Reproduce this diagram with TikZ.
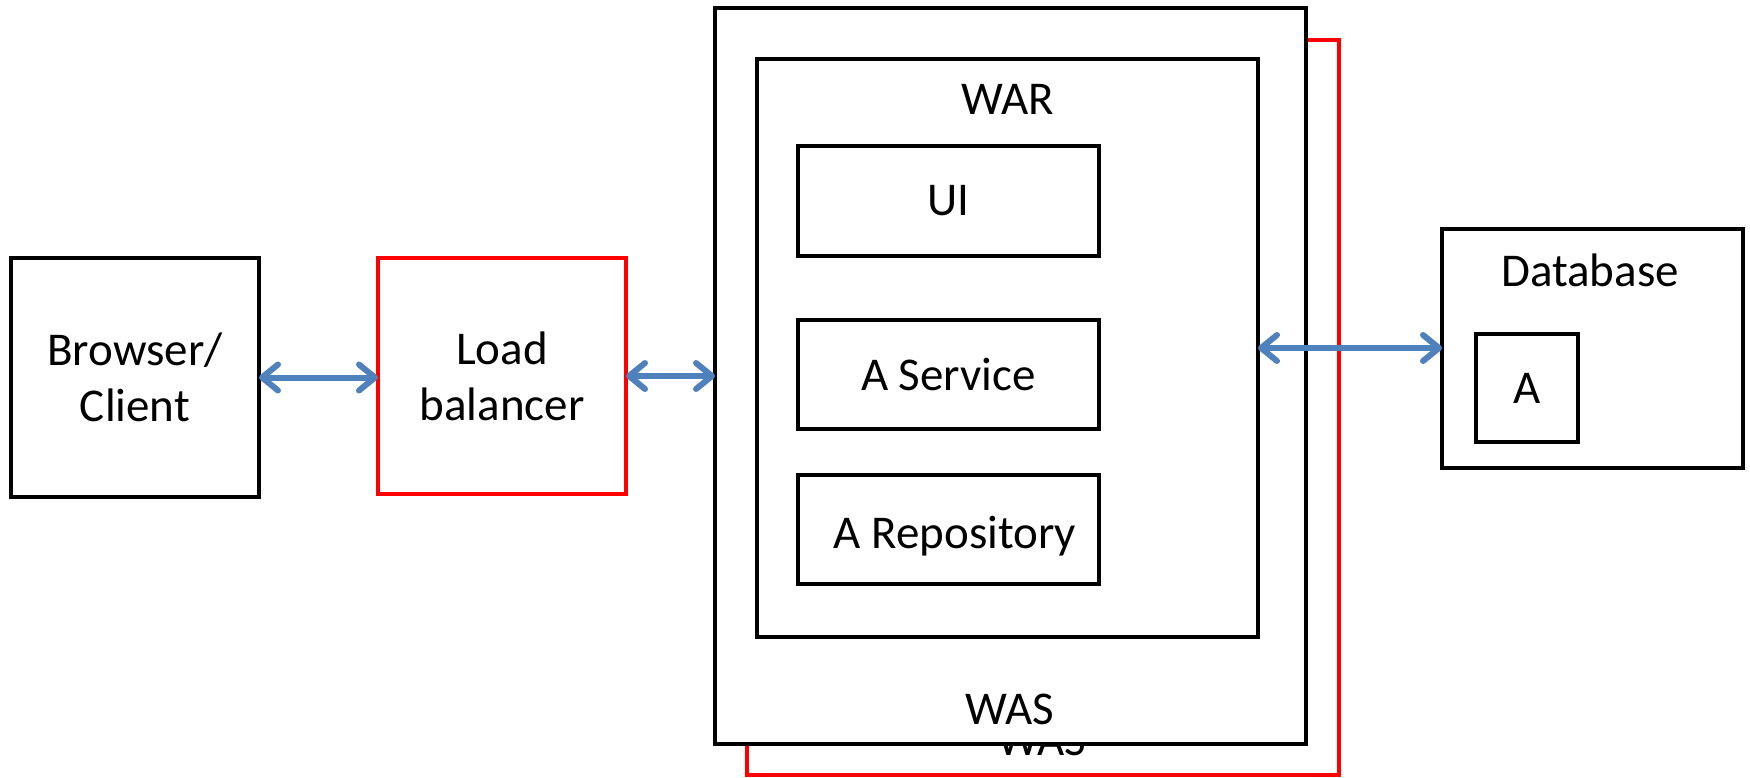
\documentclass[tikz,border=0pt]{standalone}
\usepackage{fontspec}
\setmainfont{Carlito}
\usetikzlibrary{arrows.meta}
\definecolor{arrblue}{RGB}{79,129,189}
\definecolor{boxred}{RGB}{255,0,0}
\begin{document}
\begin{tikzpicture}[x=1pt,y=-1pt,
  box/.style={draw=black, line width=4.5pt, fill=white, outer sep=0pt, inner sep=0pt, anchor=north west,
    font=\fontsize{47}{56}\selectfont, align=center},
  redbox/.style={box, draw=boxred},
  lbl/.style={font=\fontsize{47}{56}\selectfont, align=center, inner sep=0pt},
  arr/.style={draw=arrblue, line width=6pt, line cap=round,
    {Straight Barb[length=16pt,width=26pt,round]}-{Straight Barb[length=16pt,width=26pt,round]}}]
\useasboundingbox (0,0) rectangle (1750,777);
\fill[white] (0,0) rectangle (1750,777);

% left boxes
\node[box, minimum width=248pt, minimum height=239pt] (browser) at (11,258) {Browser/\\Client};
\node[redbox, minimum width=248pt, minimum height=236pt] (lb) at (378,258) {Load\\balancer};

% back WAS (red)
\node[redbox, minimum width=592pt, minimum height=735pt] (wasback) at (747,40) {};
\node[lbl] (wasbacktxt) at (1042,740) {WAS};

% front WAS
\node[box, minimum width=591pt, minimum height=736pt] (was) at (715,8) {};
\node[lbl] (wastxt) at (1010,709) {WAS};

% WAR
\node[box, minimum width=501pt, minimum height=578pt] (war) at (757,59) {};
\node[lbl] (wartxt) at (1008,99) {WAR};

\node[box, minimum width=301pt, minimum height=110pt] (ui) at (798,146) {UI};
\node[box, minimum width=301pt, minimum height=109pt] (svc) at (798,320) {A Service};
\node[box, minimum width=301pt, minimum height=109pt] (repo) at (798,475) {};
\node[lbl] (repotxt) at (955,536) {A Repository};

% database
\node[box, minimum width=301pt, minimum height=239pt] (db) at (1442,229) {};
\node[lbl] (dbtxt) at (1590,270) {Database};
\node[box, minimum width=102pt, minimum height=108pt] (dba) at (1476,334) {A};

% connectors
\draw[arr] (browser.east) -- (lb.west |- browser.east);
\draw[arr] (lb.east) -- (was.west |- lb.east);
\draw[arr] (war.east) -- (db.west |- war.east);
\end{tikzpicture}
\end{document}
